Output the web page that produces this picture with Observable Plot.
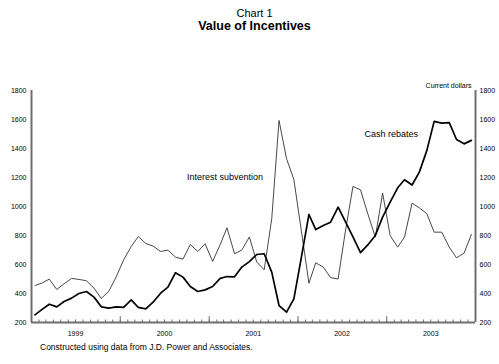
<!DOCTYPE html>
<html><head><meta charset="utf-8">
<script src="https://cdn.jsdelivr.net/npm/d3@7"></script>
<script src="https://cdn.jsdelivr.net/npm/@observablehq/plot@0.6"></script>
<style>
html,body{margin:0;padding:0;background:#fff;}
body{font-family:"Liberation Sans",Arial,Helvetica,sans-serif;color:#000;}
#wrap{position:relative;width:499px;height:364px;overflow:hidden;}
#t1{position:absolute;left:10px;width:489px;top:7px;text-align:center;font-size:11px;line-height:13px;}
#t2{position:absolute;left:10px;width:489px;top:19px;text-align:center;font-size:12.5px;font-weight:bold;line-height:15px;}
#chart{position:absolute;left:0;top:34px;}
#cap{position:absolute;left:40px;top:341px;font-size:8.5px;line-height:12px;}
</style></head>
<body>
<div id="wrap">
  <div id="t1">Chart 1</div>
  <div id="t2">Value of Incentives</div>
  <div id="chart"></div>
  <div id="cap">Constructed using data from J.D. Power and Associates.</div>
</div>
<script>
// Monthly values, Jan 1999 – Dec 2003 (current dollars)
const cashRebates = [253,292,326,308,345,368,400,414,375,308,299,308,
  304,356,304,294,340,402,444,543,513,448,414,425,
  448,504,517,515,582,620,669,674,547,317,271,363,
  651,945,841,869,892,995,895,790,682,735,800,927,
  1030,1129,1184,1148,1237,1387,1587,1575,1578,1462,1432,1456];
const interestSubvention = [455,474,499,428,467,504,497,488,437,366,416,513,
  632,724,793,745,727,690,699,651,637,738,690,743,
  621,738,853,674,700,790,618,563,915,1593,1329,1186,
  830,471,612,582,510,500,830,1138,1115,950,789,1092,
  800,720,789,1023,991,950,823,823,720,646,678,807];
const yTicks = [200,400,600,800,1000,1200,1400,1600,1800];
const yearLabels = [1999,2000,2001,2002,2003];
const seriesLabels = [
  {name:"Interest subvention", date:"2000-10-01", value:1200},
  {name:"Cash rebates", date:"2002-10-01", value:1500}
];

const start = new Date(Date.UTC(1999,0,1));
const end = new Date(Date.UTC(2004,0,1));
const months = d3.utcMonths(start, end);
const mid = months.map(m => d3.utcDay.offset(m, 14));
const rows = s => s.map((v,i) => ({date: mid[i], value: v}));
const yearStarts = yearLabels.map(y => new Date(Date.UTC(y,0,1)));
const yearMids = yearLabels.map(y => new Date(Date.UTC(y,6,1)));

const H = 306, mt = 56, mb = 18;
const inner = H - mt - mb;
const axisColor = "#6e6e6e";

const plot = Plot.plot({
  width: 499, height: H,
  marginLeft: 31, marginRight: 24, marginTop: mt, marginBottom: mb,
  style: {fontFamily: '"Liberation Sans", Arial, sans-serif', background: "#fff", color: "#000"},
  x: {type: "utc", domain: [start, end]},
  y: {domain: [200, 1800]},
  marks: [
    Plot.ruleX(months, {x: d => d, stroke: axisColor, strokeWidth: 1, insetTop: inner - 2.5}),
    Plot.ruleX(yearStarts, {x: d => d, stroke: axisColor, strokeWidth: 1, insetTop: inner - 6}),
    Plot.axisY(yTicks, {anchor: "left", tickSize: 0, tickPadding: 5, fontSize: 7, label: null, tickFormat: d => String(d)}),
    Plot.axisY(yTicks, {anchor: "right", tickSize: 0, tickPadding: 4, fontSize: 7, label: null, tickFormat: d => String(d)}),
    Plot.axisX(yearMids, {tickSize: 0, tickPadding: 8.5, fontSize: 7, tickFormat: d3.utcFormat("%Y"), label: null}),
    Plot.line(rows(interestSubvention), {x: "date", y: "value", stroke: "#333", strokeWidth: 0.9}),
    Plot.line(rows(cashRebates), {x: "date", y: "value", stroke: "#000", strokeWidth: 1.7}),
    Plot.ruleX([start, end], {stroke: axisColor, strokeWidth: 2}),
    Plot.ruleY([200], {stroke: axisColor, strokeWidth: 2}),
    Plot.text(seriesLabels, {x: d => new Date(d.date), y: "value", text: "name", textAnchor: "start", fontSize: 9, fill: "#000"}),
    Plot.text(["Current dollars"], {frameAnchor: "top-right", textAnchor: "end", lineAnchor: "bottom", dx: -4, dy: -3, fontSize: 7, fill: "#000"})
  ]
});
document.getElementById("chart").appendChild(plot);
</script>
</body></html>
